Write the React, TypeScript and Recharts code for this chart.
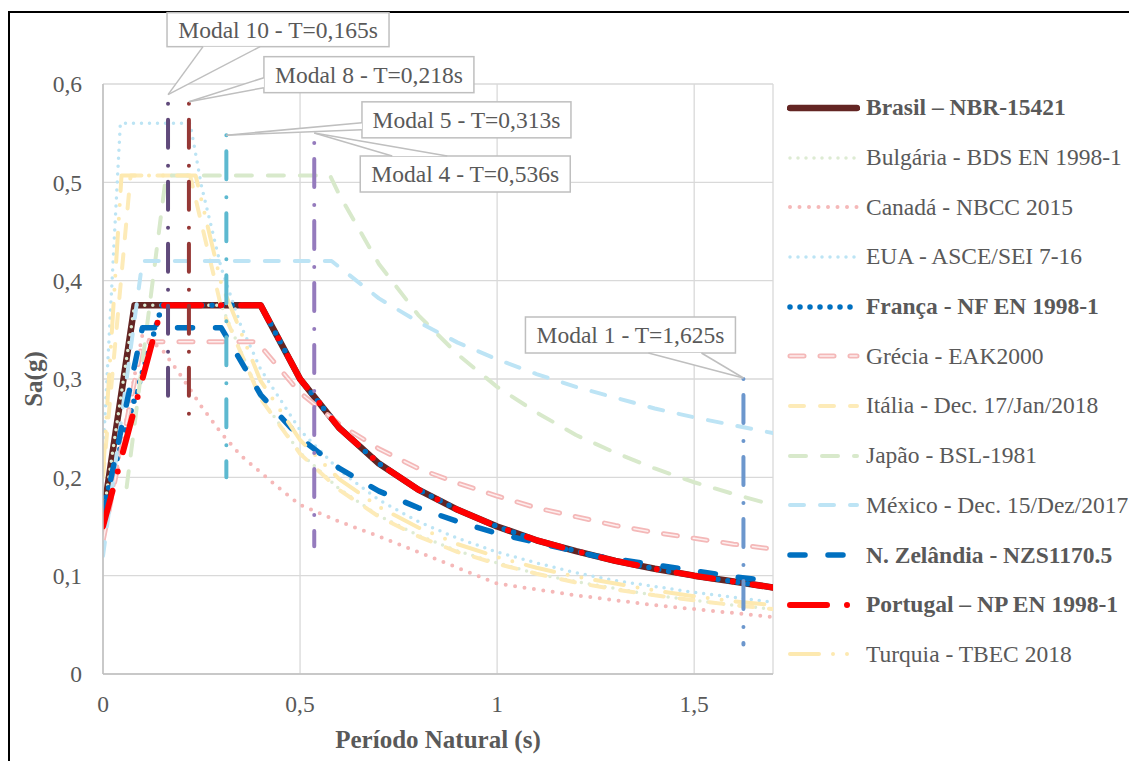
import {
  CartesianGrid,
  Label,
  Legend,
  Line,
  LineChart,
  ReferenceDot,
  XAxis,
  YAxis,
} from "recharts";

// Período natural T (s) x aceleração espectral Sa (g)
const brasil = [[0, 0.16], [0.08, 0.375], [0.4, 0.375], [0.5, 0.3], [0.6, 0.25], [0.7, 0.214], [0.8, 0.1875], [0.9, 0.167], [1.0, 0.15], [1.1, 0.136], [1.2, 0.125], [1.3, 0.115], [1.4, 0.107], [1.5, 0.1], [1.6, 0.094], [1.7, 0.088]];
const bulgaria = [[0, 0.16], [0.08, 0.375], [0.3, 0.375], [0.4, 0.281], [0.5, 0.225], [0.6, 0.188], [0.7, 0.161], [0.8, 0.141], [0.9, 0.125], [1.0, 0.113], [1.1, 0.102], [1.2, 0.094], [1.3, 0.087], [1.4, 0.08], [1.5, 0.075], [1.6, 0.07], [1.7, 0.066]];
const canada = [[0, 0.135], [0.05, 0.24], [0.1, 0.345], [0.15, 0.33], [0.2, 0.302], [0.25, 0.272], [0.3, 0.245], [0.35, 0.222], [0.4, 0.205], [0.45, 0.188], [0.5, 0.172], [0.6, 0.155], [0.7, 0.14], [0.8, 0.124], [0.9, 0.108], [1.0, 0.092], [1.2, 0.08], [1.4, 0.07], [1.5, 0.066], [1.7, 0.058]];
const eua = [[0, 0.224], [0.044, 0.56], [0.221, 0.56], [0.25, 0.496], [0.3, 0.413], [0.35, 0.354], [0.4, 0.31], [0.5, 0.248], [0.6, 0.207], [0.7, 0.177], [0.8, 0.155], [0.9, 0.138], [1.0, 0.124], [1.1, 0.113], [1.2, 0.103], [1.3, 0.095], [1.4, 0.089], [1.5, 0.083], [1.6, 0.078], [1.7, 0.073]];
const franca = [[0, 0.17], [0.15, 0.375], [0.4, 0.375], [0.5, 0.3], [0.6, 0.25], [0.7, 0.214], [0.8, 0.1875], [0.9, 0.167], [1.0, 0.15], [1.1, 0.136], [1.2, 0.125], [1.3, 0.115], [1.4, 0.107], [1.5, 0.1], [1.6, 0.094], [1.7, 0.088]];
const grecia = [[0, 0.135], [0.1, 0.338], [0.39, 0.338], [0.5, 0.286], [0.6, 0.254], [0.7, 0.229], [0.8, 0.209], [0.9, 0.194], [1.0, 0.181], [1.1, 0.169], [1.2, 0.16], [1.3, 0.151], [1.4, 0.144], [1.5, 0.138], [1.6, 0.132], [1.7, 0.127]];
const italia = [[0, 0.2], [0.07, 0.507], [0.221, 0.507], [0.3, 0.373], [0.4, 0.28], [0.5, 0.224], [0.6, 0.187], [0.7, 0.16], [0.8, 0.14], [0.9, 0.124], [1.0, 0.112], [1.1, 0.102], [1.2, 0.093], [1.3, 0.086], [1.4, 0.08], [1.5, 0.075], [1.6, 0.07], [1.7, 0.066]];
const japao = [[0.06, 0.19], [0.16, 0.507], [0.576, 0.507], [0.6, 0.487], [0.7, 0.417], [0.8, 0.365], [0.9, 0.325], [1.0, 0.292], [1.1, 0.266], [1.2, 0.243], [1.3, 0.225], [1.4, 0.209], [1.5, 0.195], [1.6, 0.183], [1.7, 0.172]];
const mexico = [[0, 0.12], [0.1, 0.42], [0.58, 0.42], [0.7, 0.382], [0.8, 0.358], [0.9, 0.337], [1.0, 0.32], [1.1, 0.305], [1.2, 0.292], [1.3, 0.281], [1.4, 0.27], [1.5, 0.261], [1.6, 0.253], [1.7, 0.245]];
const nZelandia = [[0, 0.16], [0.1, 0.352], [0.3, 0.352], [0.4, 0.284], [0.5, 0.24], [0.6, 0.209], [0.7, 0.186], [0.8, 0.169], [0.9, 0.155], [1.0, 0.143], [1.25, 0.12], [1.5, 0.105], [1.6, 0.099], [1.7, 0.094]];
const portugal = [[0, 0.15], [0.15, 0.375], [0.4, 0.375], [0.5, 0.3], [0.6, 0.25], [0.7, 0.214], [0.8, 0.1875], [0.9, 0.167], [1.0, 0.15], [1.1, 0.136], [1.2, 0.125], [1.3, 0.115], [1.4, 0.107], [1.5, 0.1], [1.6, 0.094], [1.7, 0.088]];
const turquia = [[0, 0.203], [0.047, 0.507], [0.235, 0.507], [0.3, 0.397], [0.4, 0.298], [0.5, 0.238], [0.6, 0.198], [0.7, 0.17], [0.8, 0.149], [0.9, 0.132], [1.0, 0.119], [1.1, 0.108], [1.2, 0.099], [1.3, 0.092], [1.4, 0.085], [1.5, 0.079], [1.6, 0.074], [1.7, 0.07]];

// Modos de vibração: período e extensão vertical da marca
const modais = [
  { name: "Modal 10", t: 0.165, top: 0.58, bottom: 0.28 },
  { name: "Modal 8", t: 0.218, top: 0.58, bottom: 0.25 },
  { name: "Modal 5", t: 0.313, top: 0.548, bottom: 0.2 },
  { name: "Modal 4", t: 0.536, top: 0.54, bottom: 0.13 },
  { name: "Modal 1", t: 1.625, top: 0.3, bottom: 0.03 },
];

const xTicks = [0, 0.5, 1, 1.5];
const yTicks = [0, 0.1, 0.2, 0.3, 0.4, 0.5, 0.6];

const FONT = '"Liberation Serif", "Times New Roman", serif';
const TEXT = "#595959";

const SERIES = [
  { name: "Brasil – NBR-15421", data: brasil, color: "#632523", width: 6.5, dash: undefined, bold: true },
  { name: "Bulgária - BDS EN 1998-1", data: bulgaria, color: "#DDEBD3", width: 3.5, dash: "0 8" },
  { name: "Canadá - NBCC 2015", data: canada, color: "#F5B8B8", width: 4, dash: "0 9.5" },
  { name: "EUA - ASCE/SEI 7-16", data: eua, color: "#BCE4F4", width: 3.5, dash: "0 8" },
  { name: "França - NF EN 1998-1", data: franca, color: "#0070C0", width: 5.5, dash: "0 10", bold: true },
  { name: "Grécia - EAK2000", data: grecia, color: "#F4B8B8", width: 5, dash: "14 16", inner: "#FDEEEE" },
  { name: "Itália - Dec. 17/Jan/2018", data: italia, color: "#FDEBB8", width: 4, dash: "14 16" },
  { name: "Japão - BSL-1981", data: japao, color: "#D8E9CB", width: 4, dash: "16 16" },
  { name: "México - Dec. 15/Dez/2017", data: mexico, color: "#BDE4F5", width: 4, dash: "14 16" },
  { name: "N. Zelândia - NZS1170.5", data: nZelandia, color: "#0070C0", width: 5.5, dash: "15 23", bold: true },
  { name: "Portugal – NP EN 1998-1", data: portugal, color: "#FF0000", width: 6, dash: "37 20 0 20", bold: true },
  { name: "Turquia - TBEC 2018", data: turquia, color: "#FDE9B0", width: 4, dash: "29 14 0 14 0 14" },
];

const MODAL_STYLE = [
  { color: "#604A7B", tipDy: -9, box: [-1, -82, 222, 34], base: [[35, -48], [92, -48]] },
  { color: "#953735", tipDy: -2, box: [75, -45, 210, 36], base: [[75, -24], [75, -14]] },
  { color: "#5DB9D0", tipDy: 0, box: [135.6, -33.3, 209, 36], base: [[135.6, -12.3], [135.6, -5.3]] },
  { color: "#957BBD", tipDy: -10, box: [46, 23, 210, 36], base: [[78, 23], [133, 23]] },
  { color: "#6C97CD", tipDy: -1, box: [-218, -61, 210, 36], base: [[-95, -25], [-42, -25]] },
];

const pts = (rows: number[][]) => rows.map(([t, sa]) => ({ t, sa }));
const comma = (v: number) => String(v).replace(".", ",");

const XTitle = (props: any) => {
  const { x, y, width } = props.viewBox;
  return (
    <text x={x + width / 2} y={y + 74} textAnchor="middle" fontFamily={FONT} fontSize={25} fontWeight="bold" fill={TEXT}>
      Período Natural (s)
    </text>
  );
};

const YTitle = (props: any) => {
  const { x, y, height } = props.viewBox;
  const cx = x + 10;
  const cy = y + height / 2;
  return (
    <text x={cx} y={cy} transform={`rotate(-90 ${cx} ${cy})`} textAnchor="middle" dominantBaseline="central" fontFamily={FONT} fontSize={25} fontWeight="bold" fill={TEXT}>
      Sa(g)
    </text>
  );
};

function Callout({ cx, cy, text, st }: any) {
  const tx = cx;
  const ty = cy + st.tipDy;
  const [bx, by, bw, bh] = st.box;
  const [[ax, ay], [bx2, by2]] = st.base;
  const p1 = [tx + ax, ty + ay];
  const p2 = [tx + bx2, ty + by2];
  return (
    <g>
      <rect x={tx + bx} y={ty + by} width={bw} height={bh} fill="#fff" stroke="#BFBFBF" strokeWidth={1.5} />
      <polygon points={`${p1[0]},${p1[1]} ${tx},${ty} ${p2[0]},${p2[1]}`} fill="#fff" stroke="none" />
      <line x1={p1[0]} y1={p1[1]} x2={tx} y2={ty} stroke="#BFBFBF" strokeWidth={1.5} />
      <line x1={p2[0]} y1={p2[1]} x2={tx} y2={ty} stroke="#BFBFBF" strokeWidth={1.5} />
      <text x={tx + bx + bw / 2} y={ty + by + bh / 2} textAnchor="middle" dominantBaseline="central" fontFamily={FONT} fontSize={23.5} fill={TEXT}>
        {text}
      </text>
    </g>
  );
}

const renderLegend = (props: any) => {
  const items = (props.payload || []).filter((p: any) => SERIES.some((s) => s.name === p.value));
  return (
    <div style={{ fontFamily: FONT }}>
      {items.map((p: any) => {
        const s: any = SERIES.find((x) => x.name === p.value);
        return (
          <div key={s.name} style={{ height: 49.7, display: "flex", alignItems: "center" }}>
            <svg width={73} height={20} style={{ flex: "none" }}>
              <line x1={3} y1={10} x2={70} y2={10} stroke={s.color} strokeWidth={s.width} strokeDasharray={s.dash} strokeLinecap="round" />
              {s.inner && <line x1={3} y1={10} x2={70} y2={10} stroke={s.inner} strokeWidth={1.5} strokeDasharray={s.dash} strokeLinecap="round" />}
            </svg>
            <span style={{ marginLeft: 6, fontSize: 23.5, color: TEXT, fontWeight: s.bold ? "bold" : "normal", whiteSpace: "nowrap" }}>
              {s.name}
            </span>
          </div>
        );
      })}
    </div>
  );
};

export default function App() {
  return (
    <div style={{ position: "relative", width: 1129, height: 753, background: "#fff" }}>
      <div style={{ position: "absolute", left: 0, top: 3, right: 0, bottom: 0, borderLeft: "2px solid #000", borderTop: "2px solid #000" }} />
      <LineChart width={1129} height={753} margin={{ top: 76, right: 364, bottom: 7, left: 15 }}>
        <CartesianGrid stroke="#D9D9D9" strokeWidth={1.3} />
        <XAxis
          dataKey="t"
          type="number"
          domain={[0, 1.7]}
          ticks={xTicks}
          allowDataOverflow
          tickFormatter={comma}
          tick={{ fill: TEXT, fontSize: 23.5, fontFamily: FONT }}
          tickLine={false}
          tickMargin={15}
          axisLine={{ stroke: "#BFBFBF", strokeWidth: 1.5 }}
          height={80}
          label={<Label content={XTitle} />}
        />
        <YAxis
          type="number"
          domain={[0, 0.6]}
          ticks={yTicks}
          allowDataOverflow
          tickFormatter={comma}
          tick={{ fill: TEXT, fontSize: 23.5, fontFamily: FONT }}
          tickLine={false}
          tickMargin={15}
          axisLine={{ stroke: "#BFBFBF", strokeWidth: 1.5 }}
          width={80}
          label={<Label content={YTitle} />}
        />
        <Legend
          layout="vertical"
          align="center"
          verticalAlign="middle"
          content={renderLegend}
          wrapperStyle={{ left: 779, top: 75, width: 350 }}
        />
        {SERIES.map((s: any) => [
          <Line
            key={s.name}
            name={s.name}
            data={pts(s.data)}
            dataKey="sa"
            type="linear"
            stroke={s.color}
            strokeWidth={s.width}
            strokeDasharray={s.dash}
            strokeLinecap="round"
            strokeLinejoin="round"
            dot={false}
            activeDot={false}
            isAnimationActive={false}
          />,
          s.inner ? (
            <Line
              key={s.name + "-inner"}
              name={s.name + " (interno)"}
              legendType="none"
              data={pts(s.data)}
              dataKey="sa"
              type="linear"
              stroke={s.inner}
              strokeWidth={1.5}
              strokeDasharray={s.dash}
              strokeLinecap="round"
              dot={false}
              activeDot={false}
              isAnimationActive={false}
            />
          ) : null,
        ])}
        {modais.map((m, i) => (
          <Line
            key={m.name}
            name={m.name}
            legendType="none"
            data={[{ t: m.t, sa: m.top }, { t: m.t, sa: m.bottom }]}
            dataKey="sa"
            type="linear"
            stroke={MODAL_STYLE[i].color}
            strokeWidth={4}
            strokeDasharray="0 16 28 18"
            strokeLinecap="round"
            dot={false}
            activeDot={false}
            isAnimationActive={false}
          />
        ))}
        {modais.map((m, i) => (
          <ReferenceDot
            key={m.name + "-callout"}
            x={m.t}
            y={m.top}
            r={0}
            ifOverflow="visible"
            shape={(p: any) => (
              <Callout cx={p.cx} cy={p.cy} st={MODAL_STYLE[i]} text={`${m.name} - T=${m.t.toFixed(3).replace(".", ",")}s`} />
            )}
          />
        ))}
      </LineChart>
    </div>
  );
}
